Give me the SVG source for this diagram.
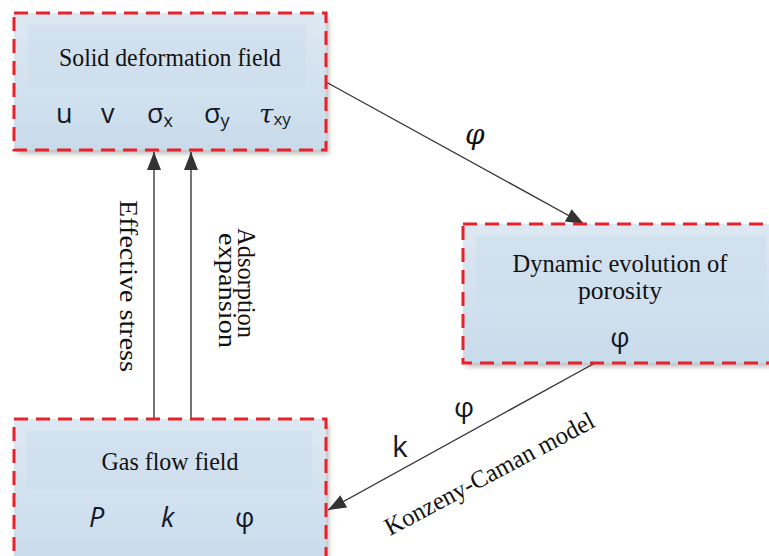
<svg xmlns="http://www.w3.org/2000/svg" width="769" height="556" viewBox="0 0 769 556">
<style>
.box{fill:url(#bg);stroke:none;filter:url(#sh)}
.dash{fill:none;stroke:#e8212b;stroke-width:3;stroke-dasharray:14 8}
.inner{fill:#cfdeec;opacity:0.7}
.title{font-family:"Liberation Serif",serif;font-size:25px;fill:#111;text-anchor:middle}
.var{font-family:"Open Sans","Liberation Sans",sans-serif;font-size:27px;fill:#121826}
.lab{font-family:"Liberation Serif",serif;font-size:25px;fill:#111}
.conn{stroke:#3a3a3a;stroke-width:1.4;fill:none}
</style>
<defs>
<linearGradient id="bg" x1="0" y1="0" x2="0" y2="1">
<stop offset="0" stop-color="#dde8f2"/>
<stop offset="1" stop-color="#c8dbeb"/>
</linearGradient>
<filter id="sh" x="-5%" y="-5%" width="115%" height="120%">
<feDropShadow dx="3" dy="4" stdDeviation="2.5" flood-color="#000" flood-opacity="0.25"/>
</filter>
<marker id="ah" viewBox="0 0 18 14" refX="18" refY="7" markerWidth="18" markerHeight="14" markerUnits="userSpaceOnUse" orient="auto">
<path d="M0,0 L18,7 L0,14 Z" fill="#333"/>
</marker>
</defs>
<rect width="769" height="556" fill="#fff"/>

<g id="connectors">
<line class="conn" x1="326" y1="82" x2="584" y2="224" marker-end="url(#ah)"/>
<line class="conn" x1="154" y1="419" x2="154" y2="152" marker-end="url(#ah)"/>
<line class="conn" x1="191" y1="419" x2="191" y2="152" marker-end="url(#ah)"/>
<line class="conn" x1="595" y1="363" x2="328" y2="510" marker-end="url(#ah)"/>
<text x="465" y="144" style="font-family:'DejaVu Serif',serif;font-style:italic;font-size:28px;fill:#111">φ</text>
<text class="var" x="392" y="457" style="font-size:30px">k</text>
<text class="var" x="454" y="417" style="font-size:28px">φ</text>
<text class="lab" transform="translate(120,200) rotate(90)" textLength="172" lengthAdjust="spacingAndGlyphs">Effective stress</text>
<text class="lab" transform="translate(238,228) rotate(90)" textLength="110" lengthAdjust="spacingAndGlyphs">Adsorption</text>
<text class="lab" transform="translate(219,233) rotate(90)" textLength="115" lengthAdjust="spacingAndGlyphs">expansion</text>
<text class="lab" transform="translate(390,536) rotate(-28)" textLength="234" lengthAdjust="spacingAndGlyphs">Konzeny-Caman model</text>
</g>

<g id="solid">
<rect class="box" x="14" y="13" width="312" height="137"/>
<rect class="inner" x="28" y="25" width="278" height="63"/>
<rect class="dash" x="14" y="13" width="312" height="137"/>
<text class="title" x="170" y="66" textLength="222" lengthAdjust="spacingAndGlyphs">Solid deformation field</text>
<text class="var" x="56" y="123">u</text>
<text class="var" x="101" y="123">v</text>
<text class="var" x="147" y="123">σ<tspan style="font-size:18px" dy="4">x</tspan></text>
<text class="var" x="204" y="123">σ<tspan style="font-size:18px" dy="4">y</tspan></text>
<text x="259" y="123" style="font-family:'DejaVu Serif',serif;font-style:italic;font-size:26px;fill:#121826">τ<tspan style="font-size:17px;font-style:normal;font-family:'Open Sans',sans-serif" dy="2">xy</tspan></text>
</g>

<g id="porosity">
<rect class="box" x="463" y="224" width="320" height="139"/>
<rect class="inner" x="476" y="236" width="290" height="66"/>
<rect class="dash" x="463" y="224" width="320" height="139"/>
<text class="title" x="620" y="272" textLength="215" lengthAdjust="spacingAndGlyphs">Dynamic evolution of</text>
<text class="title" x="620" y="299" textLength="84" lengthAdjust="spacingAndGlyphs">porosity</text>
<text class="var" x="620" y="347" text-anchor="middle">φ</text>
</g>

<g id="gas">
<rect class="box" x="14" y="419" width="312" height="150"/>
<rect class="inner" x="27" y="431" width="285" height="58"/>
<rect class="dash" x="14" y="419" width="312" height="150"/>
<text class="title" x="170" y="470" textLength="137" lengthAdjust="spacingAndGlyphs">Gas flow field</text>
<text class="var" x="89" y="527" style="font-style:italic">P</text>
<text class="var" x="161" y="527" style="font-style:italic">k</text>
<text class="var" x="235" y="527">φ</text>
</g>
</svg>
